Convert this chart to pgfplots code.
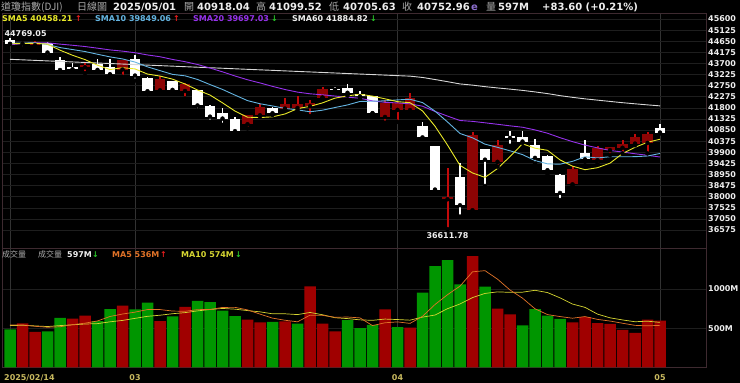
\documentclass[border=0pt]{standalone}
\usepackage{pgfplots}
\pgfplotsset{compat=1.18}
\usepackage{pgfplotstable}
\usepackage{fontspec}
\setmainfont{DejaVu Sans}
\newfontfamily\cjk{Noto Sans CJK TC}
\definecolor{framec}{RGB}{62,42,48}
\definecolor{gridh}{RGB}{30,30,30}
\definecolor{gridv}{RGB}{50,50,50}
\definecolor{upbody}{RGB}{140,4,4}
\definecolor{upwick}{RGB}{195,10,10}
\definecolor{dnbody}{RGB}{255,255,255}
\definecolor{volred}{RGB}{160,0,0}
\definecolor{volgreen}{RGB}{0,150,0}
\definecolor{smaA}{RGB}{232,232,40}
\definecolor{smaB}{RGB}{100,180,225}
\definecolor{smaC}{RGB}{150,50,235}
\definecolor{smaD}{RGB}{215,215,215}
\definecolor{vmaA}{RGB}{225,115,40}
\definecolor{vmaB}{RGB}{215,215,50}
\definecolor{txt}{RGB}{238,238,238}
\definecolor{graytxt}{RGB}{170,170,170}
\definecolor{datec}{RGB}{200,185,95}
\definecolor{arrup}{RGB}{235,30,30}
\definecolor{arrdn}{RGB}{40,200,40}
\definecolor{epurple}{RGB}{140,110,205}

\pgfplotstableread{
k o h l c v vu s5 s10 s20 s60 vm5 vm10
0 44711 44769.05 44530 44546.08 486 0 44538 44559 44498 43876 541 533
1 44580 44630 44345 44556.34 562 1 44555 44573 44551 43854 542 537
2 44490 44680 44345 44627.59 452 1 44562 44580 44581 43831 524 529
3 44560 44600 43990 44176.65 460 0 44524 44510 44582 43808 512 521
4 43850 43960 43340 43428.02 630 0 44267 44378 44526 43786 518 533
5 43520 43700 43350 43461.21 621 1 44050 44294 44477 43764 545 543
6 43540 43780 43280 43621.16 659 1 43863 44209 44423 43741 564 553
7 43660 43875 43350 43433.12 591 0 43624 44093 44352 43718 592 558
8 43520 43875 43230 43239.50 744 0 43437 43980 44278 43696 649 581
9 43450 43860 43130 43840.91 786 1 43519 43893 44226 43674 680 599
10 43900 44040 42970 43191.24 740 0 43465 43758 44158 43651 704 625
11 43060 43100 42390 42520.99 824 0 43245 43554 44063 43628 737 651
12 42560 43150 42450 43006.59 591 1 43160 43392 43986 43606 737 665
13 42920 42950 42420 42579.08 651 0 43028 43232 43871 43584 718 684
14 42530 42880 42200 42801.72 770 1 42820 43170 43774 43561 715 698
15 42535 42560 41690 41911.71 846 0 42564 43015 43654 43538 736 720
16 41850 41920 41210 41433.48 833 0 42347 42796 43503 43516 738 738
17 41590 41780 41070 41350.93 722 0 42015 42588 43340 43494 764 751
18 41300 41420 40700 40813.57 655 0 41662 42345 43163 43471 765 742
19 41110 41500 40920 41488.19 608 1 41400 42110 43001 43448 733 724
20 41494 41950 41430 41841.63 575 1 41386 41975 42866 43426 679 708
21 41780 41850 41490 41581.31 579 0 41415 41881 42718 43404 628 683
22 41780 42207 41700 41964.63 587 1 41538 41777 42584 43381 601 683
23 41800 42300 41700 41953.32 557 0 41766 41714 42473 43358 581 673
24 41880 42120 41450 41985.35 1033 1 41865 41632 42401 43336 666 700
25 42250 42700 42230 42583.32 557 1 42013 41700 42357 43314 663 671
26 42600 42700 42450 42587.50 460 1 42215 41815 42305 43291 639 633
27 42630 42820 42320 42454.79 604 0 42313 41925 42257 43268 642 622
28 42380 42520 42200 42299.70 502 0 42382 42074 42210 43246 631 606
29 42280 42300 41560 41583.90 541 0 42302 42084 42097 43224 533 600
30 41420 42140 41166 42001.76 740 1 42186 42100 42037 43201 569 616
31 41720 42050 41200 41989.96 515 0 42066 42141 42011 43178 580 610
32 41710 42420 41600 42225.32 506 1 42020 42167 41972 43156 561 602
33 41000 41210 40500 40545.93 952 0 41669 42026 41870 43100 651 641
34 40140 40150 38250 38314.86 1291 0 41016 41659 41646 43012 801 667
35 37900 39210 36611.78 37965.60 1367 0 40208 41197 41448 42920 926 748
36 38830 39430 37150 37645.59 1058 0 39340 40703 41259 42823 1035 808
37 37430 40780 37290 40608.45 1418 1 39016 40518 41222 42772 1217 889
38 40030 40050 38460 39593.66 1028 0 38826 40248 41161 42707 1232 942
39 39500 40420 39290 40212.71 748 1 39205 40111 41097 42652 1124 962
40 40600 40820 40180 40524.79 677 1 39717 39963 41031 42601 986 956
41 40540 40820 40300 40368.96 537 0 40262 39801 40971 42547 882 958
42 40210 40450 39430 39669.39 744 0 40074 39545 40856 42482 747 982
43 39740 39780 38970 39142.23 660 0 39984 39405 40715 42410 673 953
44 38930 38960 37860 38170.41 620 0 39575 39390 40525 42322 648 886
45 38540 39300 38500 39186.98 575 1 39307 39512 40355 42250 627 807
46 39850 40425 39500 39606.57 640 1 39155 39708 40206 42185 648 765
47 39570 40150 39400 40093.40 565 1 39240 39657 40088 42130 612 679
48 40000 40140 39780 40113.50 555 1 39434 39709 39978 42075 591 632
49 40100 40420 39850 40227.59 480 1 39846 39710 39910 42021 563 605
50 40280 40680 40200 40527.62 440 1 40114 39711 39837 41973 536 582
51 40310 40760 39850 40669.36 610 1 40326 39741 39771 41927 530 589
52 40918.04 41099.52 40705.63 40752.96 597 1 40458.21 39849.06 39697.03 41884.82 536 574
}\data

\newcommand\tfont{\bfseries\fontsize{10}{12}\selectfont}
\newcommand\sfont{\bfseries\fontsize{8}{9}\selectfont}
\newcommand\cfont{\cjk\fontsize{10}{12}\selectfont}
\newcommand\csfont{\cjk\fontsize{8}{9}\selectfont}

\begin{document}
\begin{tikzpicture}[x=1pt,y=1pt]
\fill[black] (0,0) rectangle (740,383);
\useasboundingbox (0,0) rectangle (740,383);

% ---------------- price panel ----------------
\begin{axis}[
  at={(2pt,135pt)}, anchor=south west,
  width=704pt, height=235pt, scale only axis,
  xmin=-0.64, xmax=55.68, ymin=35806, ymax=45857,
  scaled y ticks=false,
  axis line style={draw=framec},
  major tick length=0pt,
  xtick={0,10,31,52}, xticklabels={},
  ytick={36575,37050,37525,38000,38475,38950,39425,39900,40375,40850,41325,41800,42275,42750,43225,43700,44175,44650,45125,45600},
  yticklabels={36575,37050,37525,38000,38475,38950,39425,39900,40375,40850,41325,41800,42275,42750,43225,43700,44175,44650,45125,45600},
  yticklabel pos=right,
  yticklabel style={anchor=west, inner sep=0pt, xshift=2pt, font=\sfont, text=txt},
  xmajorgrids, ymajorgrids,
  x grid style={draw=gridv, line width=0.6pt},
  y grid style={draw=gridh, line width=0.6pt},
]
% wicks (low -> high)
\addplot[only marks, mark=none,
  restrict expr to domain={\thisrow{c}-\thisrow{o}}{0.001:100000},
  error bars/.cd, y dir=plus, y explicit, error mark=none,
  error bar style={draw=upwick, line width=2pt}]
  table[x=k, y=l, y error plus expr={\thisrow{h}-\thisrow{l}}] {\data};
\addplot[only marks, mark=none,
  restrict expr to domain={\thisrow{c}-\thisrow{o}}{-100000:0},
  error bars/.cd, y dir=plus, y explicit, error mark=none,
  error bar style={draw=dnbody, line width=1.8pt}]
  table[x=k, y=l, y error plus expr={\thisrow{h}-\thisrow{l}}] {\data};
% bodies (lower of open/close -> upper)
\addplot[only marks, mark=none,
  restrict expr to domain={\thisrow{c}-\thisrow{o}}{0.001:100000},
  error bars/.cd, y dir=plus, y explicit, error mark=none,
  error bar style={draw=upbody, line width=10.5pt}]
  table[x=k, y expr={min(\thisrow{o},\thisrow{c})-10}, y error plus expr={abs(\thisrow{c}-\thisrow{o})+20}] {\data};
\addplot[only marks, mark=none,
  restrict expr to domain={\thisrow{c}-\thisrow{o}}{-100000:0},
  error bars/.cd, y dir=plus, y explicit, error mark=none,
  error bar style={draw=dnbody, line width=10.5pt}]
  table[x=k, y expr={min(\thisrow{o},\thisrow{c})-10}, y error plus expr={abs(\thisrow{c}-\thisrow{o})+20}] {\data};
% moving averages
\addplot[smaD, line width=0.9pt, mark=none] table[x=k, y=s60] {\data};
\addplot[smaC, line width=0.9pt, mark=none] table[x=k, y=s20] {\data};
\addplot[smaB, line width=0.9pt, mark=none] table[x=k, y=s10] {\data};
\addplot[smaA, line width=0.9pt, mark=none] table[x=k, y=s5] {\data};
\node[anchor=south west, inner sep=0pt, font=\sfont, text=txt] at (axis cs:-0.45,44840) {44769.05};
\node[anchor=north, inner sep=0pt, font=\sfont, text=txt] at (axis cs:35,36480) {36611.78};
\end{axis}

% ---------------- volume panel ----------------
\begin{axis}[
  at={(2pt,15.5pt)}, anchor=south west,
  width=704pt, height=119.5pt, scale only axis,
  xmin=-0.64, xmax=55.68, ymin=0, ymax=1520,
  scaled y ticks=false,
  axis line style={draw=framec},
  major tick length=0pt,
  xtick={10,31,52}, xticklabels={03,04,05},
  extra x ticks={0}, extra x tick labels={2025/02/14},
  extra x tick style={grid=major, xticklabel style={anchor=north west, xshift=-6pt}},
  xticklabel style={anchor=north, inner sep=0pt, yshift=-6.5pt, font=\sfont, text=datec},
  ytick={500,1000}, yticklabels={500M,1000M},
  yticklabel pos=right,
  yticklabel style={anchor=west, inner sep=0pt, xshift=2pt, font=\sfont, text=txt},
  xmajorgrids, ymajorgrids,
  x grid style={draw=gridv, line width=0.6pt},
  y grid style={draw=gridh, line width=0.6pt},
]
\addplot[ybar, bar width=11.5pt, bar shift=0pt, fill=volred, draw=none,
  restrict expr to domain={\thisrow{vu}}{0.5:1.5}]
  table[x=k, y=v] {\data};
\addplot[ybar, bar width=11.5pt, bar shift=0pt, fill=volgreen, draw=none,
  restrict expr to domain={\thisrow{vu}}{-0.5:0.5}]
  table[x=k, y=v] {\data};
\addplot[vmaB, line width=0.7pt, mark=none] table[x=k, y=vm10] {\data};
\addplot[vmaA, line width=0.7pt, mark=none] table[x=k, y=vm5] {\data};
\end{axis}

% ---------------- header texts ----------------
\begin{scope}[every node/.style={anchor=base west, inner sep=0pt}]
\node[text=graytxt, font=\cfont] at (1,372.5) {道瓊指數(DJI)};
\node[text=graytxt, font=\cfont] at (77,372.5) {日線圖};
\node[text=txt, font=\tfont] at (113,372.5) {2025/05/01};
\node[text=graytxt, font=\cfont] at (184,372.5) {開};
\node[text=txt, font=\tfont] at (197,372.5) {40918.04};
\node[text=graytxt, font=\cfont] at (256,372.5) {高};
\node[text=txt, font=\tfont] at (269,372.5) {41099.52};
\node[text=graytxt, font=\cfont] at (329,372.5) {低};
\node[text=txt, font=\tfont] at (343,372.5) {40705.63};
\node[text=graytxt, font=\cfont] at (402,372.5) {收};
\node[text=txt, font=\tfont] at (417,372.5) {40752.96};
\node[text=epurple, font=\tfont] at (471,372.5) {e};
\node[text=graytxt, font=\cfont] at (486,372.5) {量};
\node[text=txt, font=\tfont] at (498,372.5) {597M};
\node[text=txt, font=\tfont] at (542,372.5) {+83.60 (+0.21\%)};

\node[text=smaA, font=\sfont] at (2,361.8) {SMA5 40458.21};
\node[text=arrup, font=\sfont] at (75,361.8) {↑};
\node[text=smaB, font=\sfont] at (95,361.8) {SMA10 39849.06};
\node[text=arrup, font=\sfont] at (173,361.8) {↑};
\node[text=smaC, font=\sfont] at (193,361.8) {SMA20 39697.03};
\node[text=arrdn, font=\sfont] at (271,361.8) {↓};
\node[text=txt, font=\sfont] at (292,361.8) {SMA60 41884.82};
\node[text=arrdn, font=\sfont] at (370,361.8) {↓};

\node[text=graytxt, font=\csfont] at (2,125.1) {成交量};
\node[text=graytxt, font=\csfont] at (38,125.1) {成交量};
\node[text=txt, font=\sfont] at (67,125.1) {597M};
\node[text=arrdn, font=\sfont] at (92,125.1) {↓};
\node[text=vmaA, font=\sfont] at (112,125.1) {MA5 536M};
\node[text=arrup, font=\sfont] at (160,125.1) {↑};
\node[text=vmaB, font=\sfont] at (181,125.1) {MA10 574M};
\node[text=arrdn, font=\sfont] at (235,125.1) {↓};
\end{scope}
\end{tikzpicture}
\end{document}
